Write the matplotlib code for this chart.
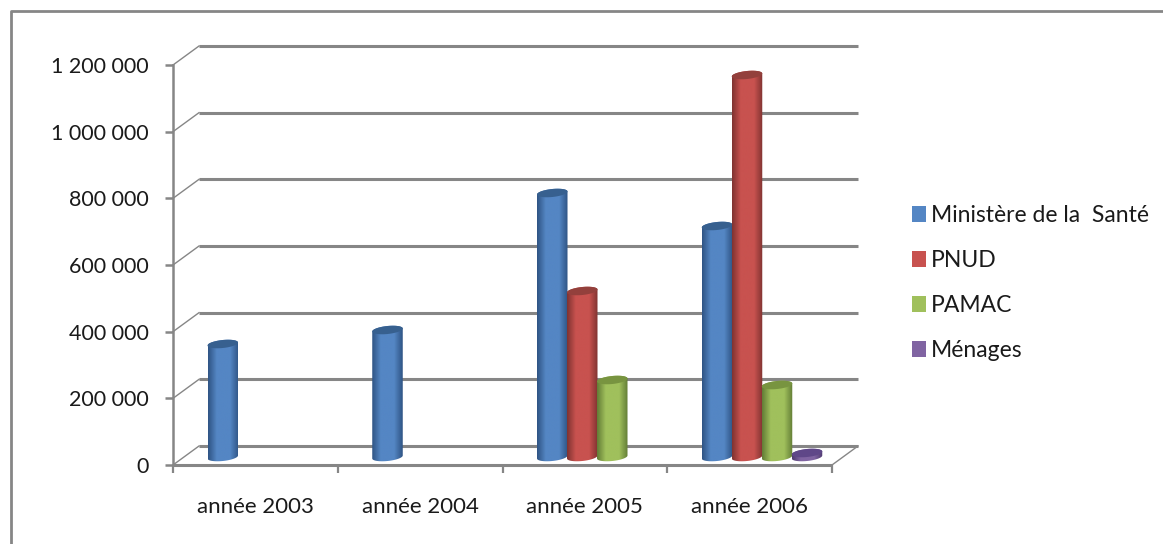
import numpy as np
import matplotlib
matplotlib.use("Agg")
import matplotlib.pyplot as plt
from matplotlib.colors import LinearSegmentedColormap
from matplotlib.lines import Line2D
from matplotlib.patches import Patch, Polygon

plt.rcParams['font.family'] = ['Lato', 'DejaVu Sans']

# values
years = ["année 2003", "année 2004", "année 2005", "année 2006"]
sante = [339000, 381000, 792000, 693000]
pnud = [0, 0, 498000, 1146000]
pamac = [0, 0, 231000, 216000]
menages = [0, 0, 0, 12000]
series_names = ["Ministère de la  Santé", "PNUD", "PAMAC", "Ménages"]
y_ticks = [0, 200000, 400000, 600000, 800000, 1000000, 1200000]
y_labels = ["0", "200 000", "400 000", "600 000", "800 000", "1 000 000", "1 200 000"]

colors = ["#5486c4", "#c8524f", "#a0c05c", "#8064a2"]
darks = ["#2f5484", "#803331", "#637d36", "#4f3a70"]
tops = ["#37608f", "#93403c", "#789440", "#5f4788"]

W, H = 1163, 544
GRID = "#868686"

fig = plt.figure(figsize=(W / 100, H / 100), dpi=100)
# plot box: x 173-832 px, y 65-465 px
ax = fig.add_axes([173 / W, 1 - 465 / H, 659 / W, 400 / H])
ax.set_xlim(0, 4)
ax.set_ylim(0, 1200000)
ax.axis("off")

px_x = 4 / 659
px_y = 1200000 / 400
depth_x = 26 * px_x
depth_y = 19 * px_y

# walls and gridlines
for v, lab in zip(y_ticks, y_labels):
    ax.plot([0, depth_x], [v, v + depth_y], color=GRID, lw=1.0, clip_on=False, zorder=1)
    ax.plot([depth_x, 4 + depth_x], [v + depth_y, v + depth_y], color=GRID, lw=2.2,
            clip_on=False, zorder=1, solid_capstyle="butt")
    ax.plot([-8 * px_x, 0], [v, v], color=GRID, lw=1.8, clip_on=False, zorder=2,
            solid_capstyle="butt")
    ax.text(-24 * px_x, v - 2 * px_y, lab, ha="right", va="center",
            fontsize=15.5, color="#1a1a1a", clip_on=False)

ax.plot([0, 0], [0, 1200000], color=GRID, lw=1.8, clip_on=False, zorder=2)
ax.plot([0, 4], [0, 0], color=GRID, lw=2.2, clip_on=False, zorder=2, solid_capstyle="butt")
ax.plot([4, 4 + depth_x], [0, depth_y], color=GRID, lw=1.0, clip_on=False, zorder=2)
for i in range(5):
    ax.plot([i, i], [0, -8 * px_y], color=GRID, lw=1.6, clip_on=False, zorder=2,
            solid_capstyle="butt")
for i, year in enumerate(years):
    ax.text(i + 0.5, -42 * px_y, year, ha="center", va="center", fontsize=16,
            color="#1a1a1a", clip_on=False)

# cylinders
bar_w = 30.5 * px_x
a = bar_w / 2
b = 4 * px_y
tilt = 1.5 * px_y
base = 8 * px_y
t = np.linspace(0, 2 * np.pi, 73)


def draw_cylinder(x0, value, k, z):
    cx = x0 + a
    low = np.linspace(np.pi, 2 * np.pi, 37)
    # front of the body: lower half of the base ellipse, then the top edge
    xs = np.r_[cx + a * np.cos(low), cx + a * np.cos(low[::-1])]
    ys = np.r_[base + b * np.sin(low) + tilt * np.cos(low),
               base + value - b * np.sin(low[::-1]) + tilt * np.cos(low[::-1])]
    body = Polygon(np.c_[xs, ys], closed=True, fc="none", ec="none",
                   transform=ax.transData, clip_on=False)
    ax.add_patch(body)
    cmap = LinearSegmentedColormap.from_list(
        "c", [(0, darks[k]), (0.28, colors[k]), (0.72, colors[k]), (1, darks[k])])
    grad = np.linspace(0, 1, 64).reshape(1, -1)
    im = ax.imshow(grad, cmap=cmap, extent=[x0, x0 + bar_w, 0, base + value + 2 * b],
                   aspect="auto", zorder=z, interpolation="bilinear")
    im.set_clip_path(body)
    top = Polygon(np.c_[cx + a * np.cos(t), base + value + b * np.sin(t) + tilt * np.cos(t)],
                  closed=True, fc=tops[k], ec="none", zorder=z + 0.1, clip_on=False)
    ax.add_patch(top)


all_series = [sante, pnud, pamac, menages]
for k, vals in enumerate(all_series):
    for i, v in enumerate(vals):
        if v > 0:
            draw_cylinder(i + 34.5 * px_x + k * 30 * px_x, v, k, 3 + k)
ax.set_xlim(0, 4)
ax.set_ylim(0, 1200000)

handles = [Patch(fc=c, ec="none") for c in colors]
ax.legend(handles, series_names, loc="upper left", bbox_to_anchor=(912 / W, 1 - 205 / H),
          bbox_transform=fig.transFigure, frameon=False, fontsize=16.5, handlelength=0.62,
          handleheight=0.7, handletextpad=0.22, labelspacing=1.05, labelcolor="#1a1a1a",
          borderpad=0, borderaxespad=0)

# outer chart frame, only left and top show in the crop
fig.add_artist(Line2D([10.5 / W, 10.5 / W, 1], [0, 1 - 11 / H, 1 - 11 / H], color=GRID, lw=2.0))

fig.savefig("out.png", dpi=100)
